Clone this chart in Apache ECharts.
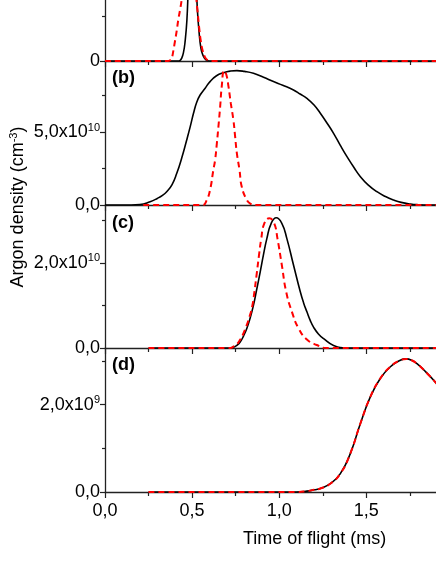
<!DOCTYPE html>
<html><head><meta charset="utf-8">
<script src="https://cdn.jsdelivr.net/npm/echarts@6/dist/echarts.min.js"></script>
<style>html,body{margin:0;padding:0;background:#fff}#c{width:436px;height:564px}</style>
</head><body><div id="c"></div>
<script>
// ---------- DATA ----------
// time axis (ms)
const xTickValues = [0, 0.5, 1.0, 1.5];
const xTickLabels = ['0,0', '0,5', '1,0', '1,5'];
const xTitle = 'Time of flight (ms)';
const yTitleMain = 'Argon density (cm';
const yTitleSup = '-3';
const yTitleEnd = ')';
const panelLabels = ['(b)', '(c)', '(d)'];

// panel (a) (arbitrary units, top of panel cropped)
const tA_black = [0, 0.42, 0.43, 0.44, 0.45, 0.46, 0.47, 0.48, 0.49, 0.50, 0.51, 0.52, 0.53, 0.54, 0.55, 0.56, 0.57, 0.58, 0.59, 0.60, 1.95];
const vA_black = [0, 0, 0.005, 0.03, 0.09, 0.22, 0.45, 0.88, 1.12, 1.28, 1.25, 1.02, 0.58, 0.32, 0.15, 0.075, 0.035, 0.012, 0.003, 0, 0];
const tA_red = [0, 0.36, 0.375, 0.383, 0.393, 0.40, 0.412, 0.42, 0.431, 0.44, 0.45, 0.46, 0.47, 0.48, 0.49, 0.50, 0.51, 0.52, 0.53, 0.54, 0.55, 0.56, 0.57, 0.58, 0.59, 0.60, 1.95];
const vA_red = [0, 0, 0.01, 0.03, 0.12, 0.2, 0.34, 0.45, 0.57, 0.68, 0.85, 1.0, 1.1, 1.15, 1.12, 1.05, 0.92, 0.76, 0.58, 0.38, 0.22, 0.12, 0.06, 0.025, 0.008, 0, 0];
const yTicksA = [0];
const yTickTextA = ['0'];

// panel (b)
const tB_black = [0, 0.15, 0.2, 0.259, 0.3, 0.33, 0.354, 0.385, 0.412, 0.44, 0.469, 0.49, 0.508, 0.527, 0.546, 0.575, 0.603, 0.64, 0.68, 0.72, 0.757, 0.8, 0.852, 0.91, 0.967, 1.02, 1.082, 1.12, 1.159, 1.2, 1.236, 1.275, 1.312, 1.35, 1.389, 1.43, 1.466, 1.51, 1.561, 1.61, 1.657, 1.7, 1.753, 1.8, 1.85, 1.95];
const vB_black = [0, 0, 0.03e10, 0.23e10, 0.45e10, 0.66e10, 0.91e10, 1.4e10, 2.17e10, 3.2e10, 4.45e10, 5.4e10, 6.28e10, 7.05e10, 7.53e10, 8.0e10, 8.45e10, 8.85e10, 9.06e10, 9.17e10, 9.2e10, 9.15e10, 9.02e10, 8.75e10, 8.45e10, 8.2e10, 7.88e10, 7.6e10, 7.3e10, 6.85e10, 6.28e10, 5.6e10, 4.91e10, 4.1e10, 3.31e10, 2.55e10, 1.94e10, 1.38e10, 0.91e10, 0.58e10, 0.34e10, 0.18e10, 0.07e10, 0.02e10, 0, 0];
const tB_red = [0.22, 0.56, 0.584, 0.603, 0.622, 0.632, 0.642, 0.651, 0.661, 0.670, 0.684, 0.697, 0.709, 0.722, 0.737, 0.747, 0.757, 0.772, 0.785, 0.814, 0.835, 0.86, 1.95];
const vB_red = [0, 0, 0.34e10, 1.03e10, 2.4e10, 3.08e10, 4.22e10, 5.36e10, 6.73e10, 8.1e10, 9.2e10, 8.9e10, 8.1e10, 6.97e10, 5.82e10, 4.68e10, 3.54e10, 2.4e10, 1.25e10, 0.34e10, 0.08e10, 0, 0];
const yTicksB = [0, 5e10];
const yTickTextB = ['0,0', '5,0x10^10'];

// panel (c)
const tC_black = [0.25, 0.72, 0.737, 0.757, 0.776, 0.795, 0.814, 0.833, 0.852, 0.871, 0.891, 0.91, 0.929, 0.954, 0.983, 1.015, 1.044, 1.082, 1.121, 1.14, 1.159, 1.178, 1.197, 1.225, 1.255, 1.312, 1.389, 1.95];
const vC_black = [0, 0, 0.02e10, 0.06e10, 0.14e10, 0.28e10, 0.46e10, 0.7e10, 1.0e10, 1.38e10, 1.79e10, 2.2e10, 2.57e10, 2.93e10, 3.06e10, 2.93e10, 2.57e10, 1.95e10, 1.32e10, 1.06e10, 0.85e10, 0.65e10, 0.49e10, 0.33e10, 0.22e10, 0.06e10, 0, 0];
const tC_red = [0.25, 0.72, 0.737, 0.755, 0.772, 0.79, 0.81, 0.83, 0.846, 0.858, 0.871, 0.884, 0.897, 0.914, 0.943, 0.971, 0.990, 1.015, 1.040, 1.073, 1.111, 1.159, 1.216, 1.274, 1.95];
const vC_red = [0, 0, 0.03e10, 0.08e10, 0.17e10, 0.3e10, 0.5e10, 0.74e10, 1.0e10, 1.33e10, 1.75e10, 2.18e10, 2.57e10, 2.92e10, 3.05e10, 2.93e10, 2.57e10, 1.95e10, 1.32e10, 0.85e10, 0.46e10, 0.2e10, 0.07e10, 0, 0];
const yTicksC = [0, 2e10];
const yTickTextC = ['0,0', '2,0x10^10'];

// panel (d)
const tD_black = [0.25, 1.1, 1.159, 1.2, 1.236, 1.293, 1.351, 1.408, 1.466, 1.523, 1.58, 1.638, 1.695, 1.73, 1.76, 1.791, 1.849, 1.902, 1.95];
const vD_black = [0, 0, 0.02e9, 0.05e9, 0.08e9, 0.19e9, 0.42e9, 0.88e9, 1.57e9, 2.18e9, 2.6e9, 2.87e9, 3.02e9, 3.05e9, 3.02e9, 2.94e9, 2.72e9, 2.49e9, 2.25e9];
const tD_red = [0.25, 1.1, 1.159, 1.2, 1.236, 1.293, 1.351, 1.408, 1.466, 1.523, 1.58, 1.638, 1.695, 1.73, 1.76, 1.791, 1.849, 1.902, 1.95];
const vD_red = [0, 0, 0.02e9, 0.05e9, 0.08e9, 0.19e9, 0.42e9, 0.88e9, 1.57e9, 2.18e9, 2.6e9, 2.87e9, 3.02e9, 3.05e9, 3.02e9, 2.94e9, 2.72e9, 2.49e9, 2.25e9];
const yTicksD = [0, 2e9];
const yTickTextD = ['0,0', '2,0x10^9'];

// ---------- CHART ----------
const FONT = 'Liberation Sans, Arial, sans-serif';
const AX = '#222';
const zip = (t, v) => t.map((x, i) => [x, v[i]]);

const panels = [
  { top: 0, height: 61, max: 0.678, interval: 1, ticks: yTicksA, texts: yTickTextA, black: zip(tA_black, vA_black), red: zip(tA_red, vA_red) },
  { top: 61, height: 144, max: 9.86e10, interval: 5e10, ticks: yTicksB, texts: yTickTextB, black: zip(tB_black, vB_black), red: zip(tB_red, vB_red) },
  { top: 205, height: 143, max: 3.36e10, interval: 2e10, ticks: yTicksC, texts: yTickTextC, black: zip(tC_black, vC_black), red: zip(tC_red, vC_red) },
  { top: 348, height: 144, max: 3.3e9, interval: 2e9, ticks: yTicksD, texts: yTickTextD, black: zip(tD_black, vD_black), red: zip(tD_red, vD_red) }
];

function richLabel(s) {
  const p = s.split('^');
  return p.length > 1 ? '{a|' + p[0] + '}{s|' + p[1] + '}' : '{a|' + s + '}';
}

const grid = [], xAxis = [], yAxis = [], series = [];
panels.forEach((p, i) => {
  grid.push({ left: 105, right: 0, top: p.top, height: p.height, containLabel: false });
  const last = i === panels.length - 1;
  xAxis.push({
    type: 'value', gridIndex: i, min: 0, max: 1.9, interval: 0.5,
    axisLine: { show: true, onZero: false, lineStyle: { color: AX, width: 1.3 } },
    axisTick: { show: true, inside: false, length: 6, customValues: xTickValues, lineStyle: { color: AX, width: 1.2 } },
    minorTick: { show: true, splitNumber: 2, length: 4, lineStyle: { color: AX, width: 1.2 } },
    splitLine: { show: false },
    axisLabel: {
      show: last, margin: 10, customValues: xTickValues,
      fontFamily: FONT, fontSize: 18, color: '#000',
      formatter: v => { const k = xTickValues.indexOf(v); return k >= 0 ? xTickLabels[k] : ''; }
    }
  });
  yAxis.push({
    type: 'value', gridIndex: i, min: 0, max: p.max, interval: p.interval,
    axisLine: { show: true, lineStyle: { color: AX, width: 1.3 } },
    axisTick: { show: true, inside: false, length: 5, customValues: p.ticks, lineStyle: { color: AX, width: 1.2 } },
    minorTick: { show: true, splitNumber: 2, length: 3, lineStyle: { color: AX, width: 1.2 } },
    splitLine: { show: false },
    axisLabel: {
      show: true, margin: 5, customValues: p.ticks,
      formatter: v => { const k = p.ticks.indexOf(v); return k >= 0 ? richLabel(p.texts[k]) : ''; },
      rich: {
        a: { fontFamily: FONT, fontSize: 18, color: '#000', lineHeight: 20 },
        s: { fontFamily: FONT, fontSize: 11, color: '#000', verticalAlign: 'top', lineHeight: 11 }
      }
    }
  });
  series.push({
    type: 'line', xAxisIndex: i, yAxisIndex: i, data: p.black, showSymbol: false, smooth: 0.5, clip: true,
    lineStyle: { color: '#000', width: 1.6 }, z: 2, silent: true
  });
  series.push({
    type: 'line', xAxisIndex: i, yAxisIndex: i, data: p.red, showSymbol: false, smooth: 0.5, clip: true,
    lineStyle: { color: '#ff0000', width: 2, type: [6, 4] }, z: 3, silent: true
  });
});

const graphic = [
  { type: 'text', x: 112, y: 78.5, style: { text: panelLabels[0], font: 'bold 18px ' + FONT, fill: '#000', verticalAlign: 'middle' } },
  { type: 'text', x: 112, y: 223.5, style: { text: panelLabels[1], font: 'bold 18px ' + FONT, fill: '#000', verticalAlign: 'middle' } },
  { type: 'text', x: 112, y: 365.5, style: { text: panelLabels[2], font: 'bold 18px ' + FONT, fill: '#000', verticalAlign: 'middle' } },
  { type: 'text', x: 243, y: 539, style: { text: xTitle, font: '18px ' + FONT, fill: '#000', verticalAlign: 'middle' } },
  { type: 'text', x: 18, y: 207, rotation: Math.PI / 2,
    style: {
      text: '{a|' + yTitleMain + '}{s|' + yTitleSup + '}{a|' + yTitleEnd + '}',
      rich: {
        a: { fontFamily: FONT, fontSize: 18, fill: '#000', lineHeight: 20 },
        s: { fontFamily: FONT, fontSize: 11, fill: '#000', verticalAlign: 'top', lineHeight: 11 }
      },
      align: 'center', verticalAlign: 'middle'
    } }
];

const chart = echarts.init(document.getElementById('c'), null, { renderer: 'canvas' });
chart.setOption({ animation: false, backgroundColor: '#fff', grid, xAxis, yAxis, series, graphic });
</script>
</body></html>
